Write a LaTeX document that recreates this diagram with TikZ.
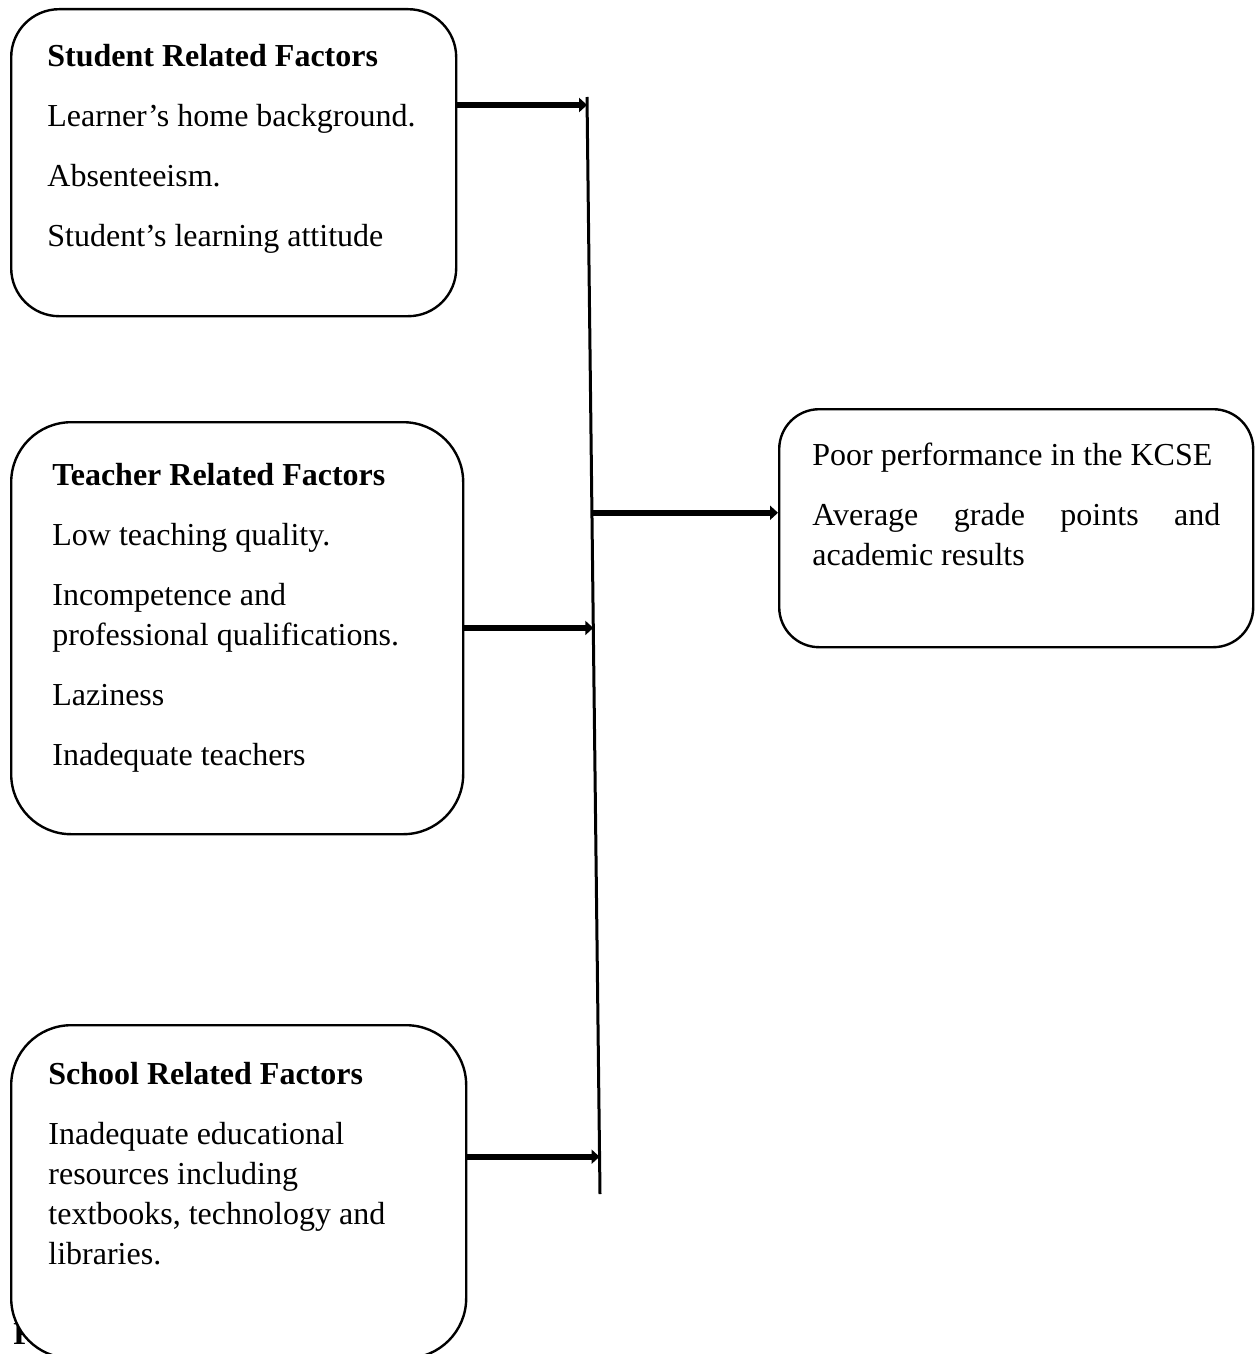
\documentclass[tikz,border=0pt]{standalone}
\usepackage{fontspec}
\setmainfont{Liberation Serif}
\usetikzlibrary{positioning,arrows.meta}

\begin{document}
\begin{tikzpicture}[
x=0.5pt,y=-0.5pt,
factor/.style={
  rectangle,
  draw=black,
  line width=1.2pt,
  fill=white,
  inner sep=0pt,
  anchor=north west
},
body/.style={
  anchor=north west,
  inner sep=0pt,
  align=left,
  font=\fontsize{16}{20}\selectfont
},
arrow/.style={-{Triangle[length=4pt,width=7pt]},line width=3pt},
bar/.style={line width=1.5pt}
]
\useasboundingbox (0,0) rectangle (1254,1354);
% caption letter, mostly hidden behind the school box
\node[anchor=base west,inner sep=0pt,font=\fontsize{16}{20}\selectfont\bfseries] (cap) at (13,1344) {F};

\node[factor,rounded corners=24pt,minimum width=222.5pt,minimum height=153.5pt] (sb) at (10,8) {};
\node[factor,rounded corners=30pt,minimum width=226pt,minimum height=206pt] (tb) at (10,421) {};
\node[factor,rounded corners=30pt,minimum width=227.5pt,minimum height=166.5pt] (cb) at (10,1024) {};
\node[factor,rounded corners=20pt,minimum width=237pt,minimum height=119pt] (out) at (778,408) {};

\node[body] (st) at (47,44) {\textbf{Student Related Factors}\\[10pt]
Learner’s home background.\\[10pt]
Absenteeism.\\[10pt]
Student’s learning attitude};
\node[body] (tt) at (52,463) {\textbf{Teacher Related Factors}\\[10pt]
Low teaching quality.\\[10pt]
Incompetence and\\
professional qualifications.\\[10pt]
Laziness\\[10pt]
Inadequate teachers};
\node[body] (ct) at (48,1062) {\textbf{School Related Factors}\\[10pt]
Inadequate educational\\
resources including\\
textbooks, technology and\\
libraries.};
\node[body] (ot) at (812,443) {Poor performance in the KCSE\\[10pt]
\makebox[204pt][s]{Average grade points and}\\
academic results};

% collecting line
\coordinate (ltop) at (587,97);
\coordinate (lbot) at (600,1194);
\draw[bar] (ltop) -- (lbot);
\path (ltop) -- (lbot)
  coordinate[pos=0.0073] (a1)
  coordinate[pos=0.379] (a4)
  coordinate[pos=0.484] (a2)
  coordinate[pos=0.966] (a3);

\draw[arrow] (sb.east |- a1) -- (a1);
\draw[arrow] (tb.east |- a2) -- (a2);
\draw[arrow] (cb.east |- a3) -- (a3);
\draw[arrow] (a4) -- (a4 -| out.west);
\end{tikzpicture}
\end{document}
